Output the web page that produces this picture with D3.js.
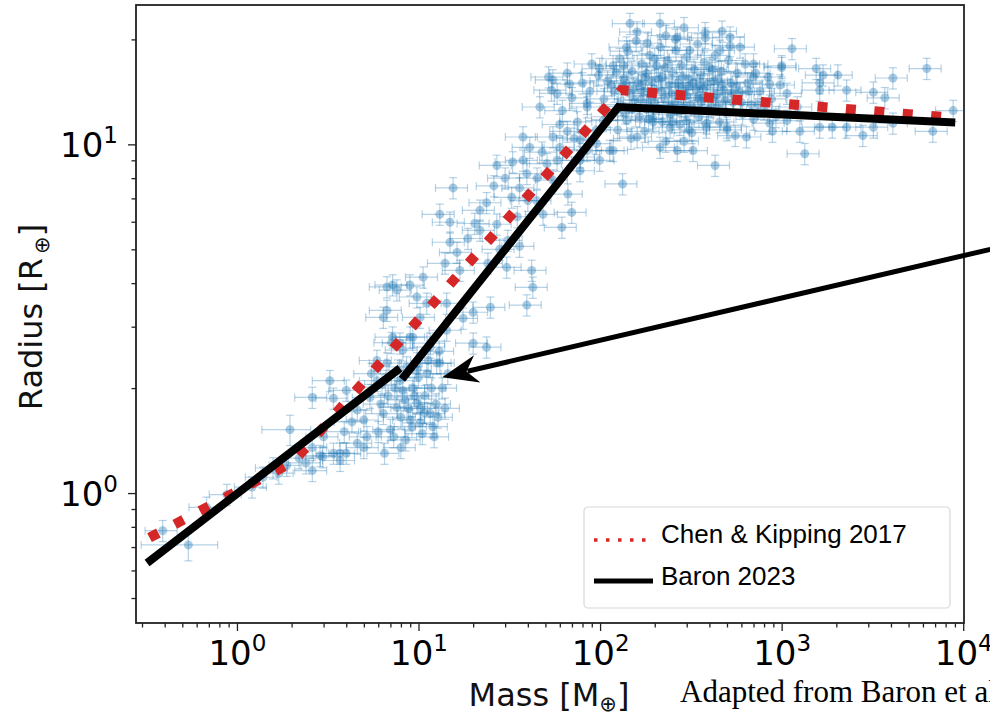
<!DOCTYPE html>
<html>
<head>
<meta charset="utf-8">
<script src="https://cdn.jsdelivr.net/npm/d3@7/dist/d3.min.js"></script>
<style>
  html, body { margin: 0; padding: 0; background: #fff; overflow: hidden; }
  svg { display: block; }
</style>
</head>
<body>
<div id="chart"></div>
<script>
// planets: [mass, radius, massErrFrac?, radiusErrFrac?]
var rockyPlanets = [
  [0.39, 0.78], [0.54, 0.71, 0.45, 0.1], [0.68, 0.91], [0.88, 0.99], [1.21, 1.04], [1.39, 1.11],
  [1.58, 1.18], [1.88, 1.2], [2.2, 1.26], [2.6, 1.16], [2.87, 1.28], [2.6, 1.35], [1.96, 1.52, 0.3, 0.1],
  [2.6, 1.88], [2.97, 1.27], [1.7, 1.14], [2.4, 1.22]
];
var subNeptunes = [
  [3.25, 2.1], [3.4, 1.87], [4.0, 1.97], [4.6, 1.73], [5.0, 1.62], [5.4, 1.88], [5.9, 2.1], [6.4, 1.69],
  [7.0, 1.52], [7.6, 1.76], [8.2, 1.97], [9.0, 1.62], [9.8, 1.81], [10.2, 1.59], [11.6, 1.69], [4.6, 1.39],
  [3.7, 1.3], [3.4, 1.3], [4.0, 1.3], [3.7, 1.24], [5.9, 2.4], [6.7, 2.36], [8.2, 2.57], [9.8, 2.36],
  [11.1, 2.2], [12.6, 2.36], [11.6, 2.69], [9.0, 2.8], [5.2, 1.45], [6.0, 1.5], [7.3, 1.45], [8.5, 1.42],
  [10.5, 1.48], [12.0, 1.55], [6.8, 1.9], [7.9, 2.1], [9.3, 2.0], [10.8, 1.9], [12.5, 1.8], [13.5, 2.0],
  [5.5, 2.2], [4.3, 1.6], [6.2, 1.8], [8.8, 1.75], [10.0, 2.15], [7.1, 2.7], [8.6, 2.3], [14.5, 2.2],
  [3.9, 1.5], [3.0, 1.45], [5.0, 1.35], [6.5, 1.3], [8.0, 1.35], [7.4, 2.0], [8.4, 1.85], [9.5, 1.9],
  [10.8, 1.7], [11.8, 2.0], [12.8, 1.65], [9.2, 1.55], [8.0, 1.65], [10.3, 1.75], [11.3, 2.4], [13.0, 2.55],
  [6.3, 2.05], [7.7, 2.25], [14.0, 1.75], [12.2, 1.45]
];
var neptunes = [
  [37.6, 10.5], [47.9, 9.5], [27, 8.7], [37.6, 9.0], [30, 8.0], [39.5, 8.24], [32.6, 7.05], [23.7, 6.8],
  [21.8, 6.47], [13.1, 6.3], [14.9, 5.98], [15.5, 7.5], [20.4, 5.93], [18.7, 5.37], [14.9, 5.24], [16.3, 4.9],
  [14.0, 4.56], [16.9, 4.35], [24.1, 4.56], [30.6, 4.44], [42, 4.35], [42.6, 3.89], [39.5, 3.46], [24.9, 3.41],
  [20, 3.3], [17.6, 3.17], [10.6, 4.16], [8.97, 3.95], [7.2, 3.95], [6.7, 3.9], [7.6, 3.82], [9.8, 3.65],
  [11.1, 3.5], [14.3, 3.5], [6.7, 3.34], [6.4, 3.19], [10.2, 3.19], [14.3, 2.93], [20, 2.69], [11.6, 2.62],
  [9.3, 2.8], [7.9, 2.69], [23.7, 2.62], [13.1, 2.36], [9.8, 2.25], [7.2, 2.8], [61.6, 5.78], [69.8, 6.38],
  [66.5, 7.2], [77.6, 8.4], [77.6, 9.0], [55, 7.9], [84.8, 9.6], [95.8, 10.05], [118, 9.6], [77.6, 10.3],
  [66, 10.9], [44.7, 6.9], [48.5, 6.3], [36, 7.5], [21.8, 5.67], [27, 5.9], [31, 5.3], [36, 5.1], [28, 5.0],
  [26, 7.6], [33, 8.9], [41, 9.8], [45, 8.0], [51, 8.8], [35, 6.2], [40, 6.9], [58, 9.0]
];
var warmGiants = [
  [52, 15.6], [58, 14.0], [62, 12.5], [66, 16.0], [70, 13.6], [75, 11.6], [80, 15.0], [85, 12.8], [90, 17.0],
  [95, 11.0], [72, 10.4], [88, 14.2], [60, 11.4], [98, 15.8], [99.5, 16.5], [55, 15.3], [68, 14.9], [54, 14.3],
  [46.6, 12.8], [84.8, 13.1], [99.5, 9.0], [77.6, 9.2], [60, 9.8], [55, 10.5]
];
var giants = [
  [146, 22.2], [214, 22.2], [379, 20.9], [470, 21.1], [123, 16.1], [140, 19.0], [182, 19.5], [266, 20.3],
  [312, 18.6], [458, 18.6], [104, 11.7], [140, 11.7], [195, 11.9], [243, 11.2], [300, 11.7], [387, 11.5],
  [500, 11.0], [160, 10.5], [214, 9.8], [266, 9.6], [325, 9.6], [430, 8.7], [133, 7.7], [113, 9.6],
  [105, 13.5], [110, 15.2], [112, 12.0], [118, 16.8], [120, 14.2], [125, 11.0], [128, 17.6], [130, 13.0],
  [135, 15.5], [138, 12.3], [142, 18.5], [145, 14.0], [148, 10.4], [150, 16.2], [155, 13.4], [158, 19.8],
  [162, 15.0], [165, 12.0], [170, 17.0], [172, 14.2], [176, 10.9], [180, 16.0], [184, 13.0], [188, 18.0],
  [192, 15.2], [196, 11.6], [200, 14.4], [205, 16.8], [210, 12.7], [215, 19.0], [220, 15.6], [225, 13.6],
  [230, 10.2], [235, 17.4], [240, 14.8], [245, 12.2], [250, 16.1], [258, 13.2], [262, 18.6], [268, 15.0],
  [275, 11.4], [280, 16.9], [288, 14.0], [295, 12.6], [300, 17.8], [308, 15.4], [315, 13.0], [320, 10.8],
  [330, 16.4], [338, 14.4], [345, 19.4], [350, 12.0], [360, 15.8], [368, 13.6], [375, 17.2], [385, 11.2],
  [392, 14.9], [400, 16.6], [410, 12.8], [420, 15.2], [430, 18.0], [440, 13.9], [455, 11.6], [465, 16.2],
  [480, 14.3], [495, 12.4], [510, 17.4], [525, 15.0], [540, 13.2], [555, 10.6], [570, 16.0], [590, 14.1],
  [610, 12.2], [630, 17.0], [650, 15.0], [680, 13.0], [700, 11.8], [720, 16.0], [760, 14.2], [800, 12.6],
  [840, 15.6], [880, 13.5], [930, 12.0], [980, 14.8], [160, 21.0], [230, 20.5], [290, 21.6], [380, 20.2],
  [520, 19.2], [260, 20.0], [140, 15.0], [170, 14.8], [190, 13.8], [210, 15.4], [240, 13.0], [270, 14.6],
  [300, 13.8], [330, 12.5], [355, 14.8], [420, 13.6], [470, 14.8], [185, 11.8], [250, 11.6], [310, 11.0],
  [150, 12.6], [135, 16.8], [200, 17.6], [280, 12.9], [360, 13.2], [450, 13.0], [115, 14.8], [132, 14.6],
  [152, 14.4], [168, 13.4], [178, 15.6], [198, 13.2], [218, 14.2], [228, 16.6], [248, 14.0], [265, 12.4],
  [285, 15.6], [305, 14.6], [325, 15.0], [345, 13.6], [370, 14.4], [395, 12.6], [415, 16.4], [445, 15.4],
  [490, 13.4], [530, 14.0], [560, 14.6], [600, 13.2], [660, 14.2], [740, 13.0], [180, 12.6], [220, 11.6],
  [290, 10.2], [125, 12.6]
];
var heavyGiants = [
  [1140, 18.8], [1000, 16.8], [1550, 16.5], [1690, 15.8], [2040, 15.8], [1620, 15.0], [1620, 14.3],
  [2280, 14.3], [3200, 14.1], [4100, 15.5], [3700, 13.6], [6300, 16.5], [8800, 12.5], [6800, 10.9],
  [4100, 11.5], [3200, 11.2], [2800, 10.6], [2280, 11.2], [1900, 11.2], [1620, 11.2], [1260, 10.9],
  [890, 10.9], [640, 10.5], [1340, 9.4], [500, 11.2], [700, 15.6], [860, 14.9], [1000, 16.6], [590, 19.0],
  [520, 20.3], [700, 17.0], [1070, 14.0], [1220, 12.8], [860, 11.5], [1070, 11.7]
];

// fitted relations, vertices in [mass, radius]
var chenKipping = [[0.33, 0.745], [2.04, 1.23], [131, 14.3], [9040, 11.9]];
var baronLow = [[0.32, 0.63], [7.9, 2.28]];
var baronHigh = [[8.1, 2.12], [126, 12.8], [9040, 11.55]];
var arrowFrom = [14100, 5.0];
var arrowTo = [13.5, 2.15];

var xMajorTicks = [1, 10, 100, 1000, 10000];
var xTickExps = ['0', '1', '2', '3', '4'];
var yMajorTicks = [1, 10];
var yTickExps = ['0', '1'];

var legendLabels = ['Chen & Kipping 2017', 'Baron 2023'];
var creditText = 'Adapted from Baron et al. (2023)';

var W = 990, H = 717;
var margin = { top: 5, left: 136 };
var width = 828, height = 618;
var blue = '#1f77b4', red = '#d62728';

var svg = d3.select('#chart').append('svg').attr('width', W).attr('height', H);
svg.append('rect').attr('width', W).attr('height', H).attr('fill', '#fff');

var x = d3.scaleLog().domain([0.278, 10100]).range([0, width]);
var y = d3.scaleLog().domain([0.424, 25.1]).range([height, 0]);

var g = svg.append('g').attr('transform', 'translate(' + margin.left + ',' + margin.top + ')');

svg.append('clipPath').attr('id', 'plotclip').append('rect')
  .attr('x', margin.left).attr('y', margin.top).attr('width', width).attr('height', height);
var plot = svg.append('g').attr('clip-path', 'url(#plotclip)')
  .append('g').attr('transform', 'translate(' + margin.left + ',' + margin.top + ')');

var planets = [].concat(rockyPlanets, subNeptunes, neptunes, warmGiants, giants, heavyGiants);

// error bars + markers
var pts = plot.append('g').attr('class', 'planets');
planets.forEach(function (p) {
  var m = p[0], r = p[1];
  var dm = (p[2] || 0.2) * m, dr = (p[3] || 0.07) * r;
  var px = x(m), py = y(r);
  var x0 = x(m - dm), x1 = x(m + dm), y0 = y(r - dr), y1 = y(r + dr);
  var e = pts.append('g').attr('stroke', blue).attr('stroke-width', 1.2).attr('fill', 'none');
  [[x0, py, x1, py], [x0, py - 4, x0, py + 4], [x1, py - 4, x1, py + 4],
   [px, y0, px, y1], [px - 4, y0, px + 4, y0], [px - 4, y1, px + 4, y1]].forEach(function (s) {
    e.append('line').attr('x1', s[0]).attr('y1', s[1]).attr('x2', s[2]).attr('y2', s[3])
      .attr('stroke-opacity', 0.33);
  });
  pts.append('circle').attr('cx', px).attr('cy', py).attr('r', 4.5)
    .attr('fill', blue).attr('fill-opacity', 0.38);
});

var line = d3.line()
  .x(function (d) { return x(d[0]); })
  .y(function (d) { return y(d[1]); });

plot.append('path').datum(chenKipping)
  .attr('d', line).attr('fill', 'none')
  .attr('stroke', red).attr('stroke-width', 10)
  .attr('stroke-dasharray', '10 18.5');

[baronLow, baronHigh].forEach(function (seg) {
  plot.append('path').datum(seg)
    .attr('d', line).attr('fill', 'none')
    .attr('stroke', '#000').attr('stroke-width', 8)
    .attr('stroke-linejoin', 'miter');
});

// axes
var notMajor = function (list) { return function (t) { return list.indexOf(t) < 0; }; };
var xMin = g.append('g').attr('transform', 'translate(0,' + height + ')')
  .call(d3.axisBottom(x).tickValues(x.ticks().filter(notMajor(xMajorTicks)))
    .tickSize(4.5).tickFormat(function () { return ''; }));
xMin.select('.domain').remove();
var xMaj = g.append('g').attr('transform', 'translate(0,' + height + ')')
  .call(d3.axisBottom(x).tickValues(xMajorTicks).tickSize(8).tickFormat(function () { return ''; }));
xMaj.select('.domain').remove();
xMaj.selectAll('.tick').each(function (d, i) {
  var t = d3.select(this).append('text').attr('y', 42).attr('fill', '#000')
    .attr('text-anchor', 'middle').attr('font-family', 'DejaVu Sans').attr('font-size', 34);
  t.append('tspan').text('10');
  t.append('tspan').attr('dy', -14).attr('font-size', 23).text(xTickExps[i]);
});

var yMin = g.append('g')
  .call(d3.axisLeft(y).tickValues(y.ticks().filter(notMajor(yMajorTicks)))
    .tickSize(4.5).tickFormat(function () { return ''; }));
yMin.select('.domain').remove();
var yMaj = g.append('g')
  .call(d3.axisLeft(y).tickValues(yMajorTicks).tickSize(8).tickFormat(function () { return ''; }));
yMaj.select('.domain').remove();
yMaj.selectAll('.tick').each(function (d, i) {
  var t = d3.select(this).append('text').attr('x', -18).attr('y', 12.5).attr('fill', '#000')
    .attr('text-anchor', 'end').attr('font-family', 'DejaVu Sans').attr('font-size', 34);
  t.append('tspan').text('10');
  t.append('tspan').attr('dy', -14).attr('font-size', 23).text(yTickExps[i]);
});
g.selectAll('.tick line').attr('stroke', '#222').attr('stroke-width', 1.3);

g.append('rect').attr('width', width).attr('height', height)
  .attr('fill', 'none').attr('stroke', '#222').attr('stroke-width', 1.8);

// axis titles
var xt = svg.append('text').attr('x', margin.left + width / 2 - 1).attr('y', 706)
  .attr('text-anchor', 'middle').attr('font-family', 'DejaVu Sans').attr('font-size', 32).attr('fill', '#111');
xt.append('tspan').text('Mass [M');
xt.append('tspan').attr('dy', 5).attr('font-size', 21).text('\u2295');
xt.append('tspan').attr('dy', -5).text(']');

var yt = svg.append('text').attr('transform', 'translate(42,317) rotate(-90)')
  .attr('text-anchor', 'middle').attr('font-family', 'DejaVu Sans').attr('font-size', 32).attr('fill', '#111');
yt.append('tspan').text('Radius [R');
yt.append('tspan').attr('dx', 4).attr('dy', 7).attr('font-size', 21).text('\u2295');
yt.append('tspan').attr('dy', -7).text(']');

// annotation arrow
var ax0 = margin.left + x(arrowFrom[0]), ay0 = margin.top + y(arrowFrom[1]);
var ax1 = margin.left + x(arrowTo[0]), ay1 = margin.top + y(arrowTo[1]);
var ang = Math.atan2(ay0 - ay1, ax0 - ax1);
var ux = Math.cos(ang), uy = Math.sin(ang);
svg.append('line').attr('x1', ax0).attr('y1', ay0)
  .attr('x2', ax1 + ux * 26).attr('y2', ay1 + uy * 26)
  .attr('stroke', '#000').attr('stroke-width', 5);
var hl = 36, hw = 14, notch = 25;
svg.append('path').attr('fill', '#000').attr('d',
  'M' + ax1 + ',' + ay1 +
  'L' + (ax1 + ux * hl - uy * hw) + ',' + (ay1 + uy * hl + ux * hw) +
  'L' + (ax1 + ux * notch) + ',' + (ay1 + uy * notch) +
  'L' + (ax1 + ux * hl + uy * hw) + ',' + (ay1 + uy * hl - ux * hw) + 'Z');

// legend
var lg = svg.append('g').attr('transform', 'translate(584,507)');
lg.append('rect').attr('width', 366).attr('height', 101).attr('rx', 4)
  .attr('fill', '#fff').attr('fill-opacity', 0.85).attr('stroke', '#d8d8d8').attr('stroke-width', 1.2);
lg.append('line').attr('x1', 10).attr('x2', 69).attr('y1', 33).attr('y2', 33)
  .attr('stroke', red).attr('stroke-width', 3.5).attr('stroke-dasharray', '3.5 8.5');
lg.append('line').attr('x1', 10).attr('x2', 69).attr('y1', 74).attr('y2', 74)
  .attr('stroke', '#000').attr('stroke-width', 5);
legendLabels.forEach(function (lab, i) {
  lg.append('text').attr('x', 77).attr('y', 36 + i * 42)
    .attr('font-family', 'Liberation Sans, Arial, sans-serif').attr('font-size', 26).attr('fill', '#000')
    .text(lab);
});

// credit, runs off the right edge as in the source figure
svg.append('text').attr('x', 680).attr('y', 702)
  .attr('font-family', 'Liberation Serif, Times New Roman, serif').attr('font-size', 31).attr('fill', '#000')
  .text(creditText);
</script>
</body>
</html>
